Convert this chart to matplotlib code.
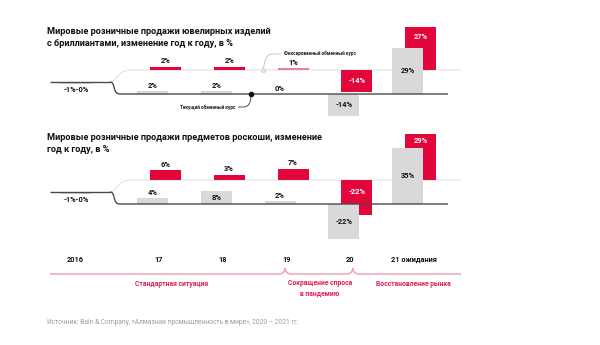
import numpy as np
import matplotlib
matplotlib.use('Agg')
import matplotlib.pyplot as plt
from matplotlib.path import Path
from matplotlib.patches import PathPatch

# ---------------- data ----------------
years = ['2016', '17', '18', '19', '20', '21 ожидания']
base_label = '-1%-0%'
base_value = -1
jewelry_fixed = [2, 2, 1, -14, 27]      # fixed exchange rate
jewelry_current = [2, 2, 0, -14, 29]    # current exchange rate
luxury_fixed = [6, 3, 7, -22, 29]
luxury_current = [4, 8, 2, -22, 35]
jewelry_title = ['Мировые розничные продажи ювелирных изделий',
                 'с бриллиантами, изменение год к году, в %']
luxury_title = ['Мировые розничные продажи предметов роскоши, изменение',
                'год к году, в %']
phases = ['Стандартная ситуация', 'Сокращение спроса\nв пандемию', 'Восстановление рынка']
label_current = 'Текущий обменный курс'
label_fixed = 'Фиксированный обменный курс'
source = 'Источник: Bain & Company, «Алмазная промышленность в мире», 2020 – 2021 гг.'

# ---------------- style ----------------
plt.rcParams['font.family'] = ['Roboto', 'DejaVu Sans']
RED = '#e3063a'
PINK = '#e7819b'
GRAY = '#d9d9d9'
DARK = '#4a4a4a'
LIGHT = '#e4e4e4'
TL = '#eea3b8'
TLTEXT = '#dc1f50'

W, H = 600, 345
fig = plt.figure(figsize=(W / 100, H / 100), dpi=100)

ov = fig.add_axes([0, 0, 1, 1])
ov.set_xlim(0, W)
ov.set_ylim(H, 0)
ov.axis('off')
ov.set_zorder(5)

X0, STEP = 159, 63.75
S = 1.6            # px per percent
GAP = 24 / S       # distance between the two baselines (in %)
BW = 31 / STEP
OFF = 6.5 / STEP


def ix(px):
    return (px - X0) / STEP + 1


def px_of(i):
    return X0 + (i - 1) * STEP


def panel(base_px, fixed, current, fixed_colors, title, title_y):
    ax = fig.add_axes([0, 0, 1, 1])
    ax.set_xlim(ix(0), ix(W))
    ax.set_ylim(-(H - base_px) / S, base_px / S)
    ax.axis('off')
    mid = GAP / 2
    # stub line + branches
    ax.plot([ix(50), ix(110)], [mid, mid], color=DARK, lw=1.0, solid_capstyle='butt', zorder=4)
    low = Path([(ix(110), mid), (ix(116), mid), (ix(112), 0), (ix(120), 0), (ix(448), 0)],
               [Path.MOVETO, Path.CURVE4, Path.CURVE4, Path.CURVE4, Path.LINETO])
    up = Path([(ix(110), mid), (ix(117), mid), (ix(116), GAP), (ix(132), GAP), (ix(461), GAP)],
              [Path.MOVETO, Path.CURVE4, Path.CURVE4, Path.CURVE4, Path.LINETO])
    ax.add_patch(PathPatch(up, fc='none', ec=LIGHT, lw=0.9, zorder=1))
    ax.add_patch(PathPatch(low, fc='none', ec=DARK, lw=1.0, zorder=4))

    x = np.arange(1, len(fixed) + 1)
    ax.bar(x + OFF, fixed, bottom=GAP, width=BW, color=fixed_colors, zorder=2)
    ax.bar(x - OFF, current, bottom=0, width=BW, color=GRAY, zorder=3)
    # 2016 stub bar
    xb = ix(76)
    ax.bar(xb, base_value, bottom=mid, width=BW, color=GRAY, zorder=3)
    ax.annotate(base_label, (xb, mid), xytext=(0, -5.8), textcoords='offset points',
                ha='center', va='center', fontsize=5.3, fontweight='bold', color='#111')

    fs = 5.4
    for xi, f, c in zip(x, fixed, current):
        # current (gray)
        if abs(c) >= 8:
            ax.text(xi - OFF, c / 2, f'{c}%', ha='center', va='center', fontsize=fs,
                    fontweight='bold', color='#111', zorder=6)
        else:
            ax.annotate(f'{c}%', (xi - OFF, max(c, 0)), xytext=(0, 3.6), textcoords='offset points',
                        ha='center', va='center', fontsize=fs, fontweight='bold', color='#111', zorder=6)
        # fixed (red)
        if abs(f) >= 10:
            r0, r1 = sorted([GAP, GAP + f])
            g0, g1 = sorted([0, c])
            segs = []
            if g1 <= r0 or g0 >= r1:
                segs = [(r0, r1)]
            else:
                if r0 < g0:
                    segs.append((r0, g0))
                if g1 < r1:
                    segs.append((g1, r1))
            a, b = max(segs, key=lambda s: s[1] - s[0])
            ax.text(xi + OFF, (a + b) / 2, f'{f}%', ha='center', va='center', fontsize=fs,
                    fontweight='bold', color='white', zorder=6)
        else:
            ax.annotate(f'{f}%', (xi + OFF, GAP + max(f, 0)), xytext=(0, 4.2), textcoords='offset points',
                        ha='center', va='center', fontsize=fs, fontweight='bold', color='#111', zorder=6)
    for k, line in enumerate(title):
        ov.text(47, title_y + k * 12, line, ha='left', va='center', fontsize=6.6,
                fontweight='bold', color='#111')
    return ax


jf_colors = [RED, RED, PINK, RED, RED]
lf_colors = [RED] * 5
ax1 = panel(94, jewelry_fixed, jewelry_current, jf_colors, jewelry_title, 32)
ax2 = panel(204, luxury_fixed, luxury_current, lf_colors, luxury_title, 138)

# callouts (panel 1)
ov.plot([251], [94], 'o', color='#111', ms=3, zorder=7)
p = Path([(251, 94), (251, 104), (248, 107), (243, 107), (238, 107)],
         [Path.MOVETO, Path.CURVE4, Path.CURVE4, Path.CURVE4, Path.LINETO])
ov.add_patch(PathPatch(p, fc='none', ec='#333', lw=0.6))
ov.text(236, 107, label_current, ha='right', va='center', fontsize=3.4, fontweight='bold', color='#222')

ov.plot([263], [70], 'o', mfc='#e6e6e6', mec='#c8c8c8', mew=0.5, ms=3, zorder=7)
p = Path([(263, 70), (265, 60), (266, 54), (273, 54), (281, 54)],
         [Path.MOVETO, Path.CURVE4, Path.CURVE4, Path.CURVE4, Path.LINETO])
ov.add_patch(PathPatch(p, fc='none', ec='#c0c0c0', lw=0.6))
ov.text(284, 53.5, label_fixed, ha='left', va='center', fontsize=3.4, fontweight='bold', color='#222')

# years
for i, y in enumerate(years):
    xp = 75 if i == 0 else px_of(i)
    ov.text(xp, 260, y, ha='center', va='center', fontsize=5.3, fontweight='bold', color='#111')

# timeline
TY = 274
verts = [(50, TY)]
codes = [Path.MOVETO]
for nx in (px_of(3) - 1.5, px_of(4) + 2.5):
    verts += [(nx - 6, TY), (nx - 2, TY), (nx, TY - 3), (nx, TY - 6),
              (nx, TY - 3), (nx + 2, TY), (nx + 6, TY)]
    codes += [Path.LINETO, Path.CURVE4, Path.CURVE4, Path.CURVE4,
              Path.CURVE4, Path.CURVE4, Path.CURVE4]
verts.append((461, TY))
codes.append(Path.LINETO)
ov.add_patch(PathPatch(Path(verts, codes), fc='none', ec=TL, lw=1.1))

ov.text(172, 284, phases[0], ha='center', va='center', fontsize=4.9, fontweight='bold', color=TLTEXT)
ov.text(320, 288.5, phases[1], ha='center', va='center', fontsize=4.9, fontweight='bold',
        color=TLTEXT, linespacing=1.5)
ov.text(413, 284, phases[2], ha='center', va='center', fontsize=4.9, fontweight='bold', color=TLTEXT)

ov.text(47, 322, source, ha='left', va='center', fontsize=4.8, color='#9b9b9b')

fig.savefig('out.png', dpi=100)
